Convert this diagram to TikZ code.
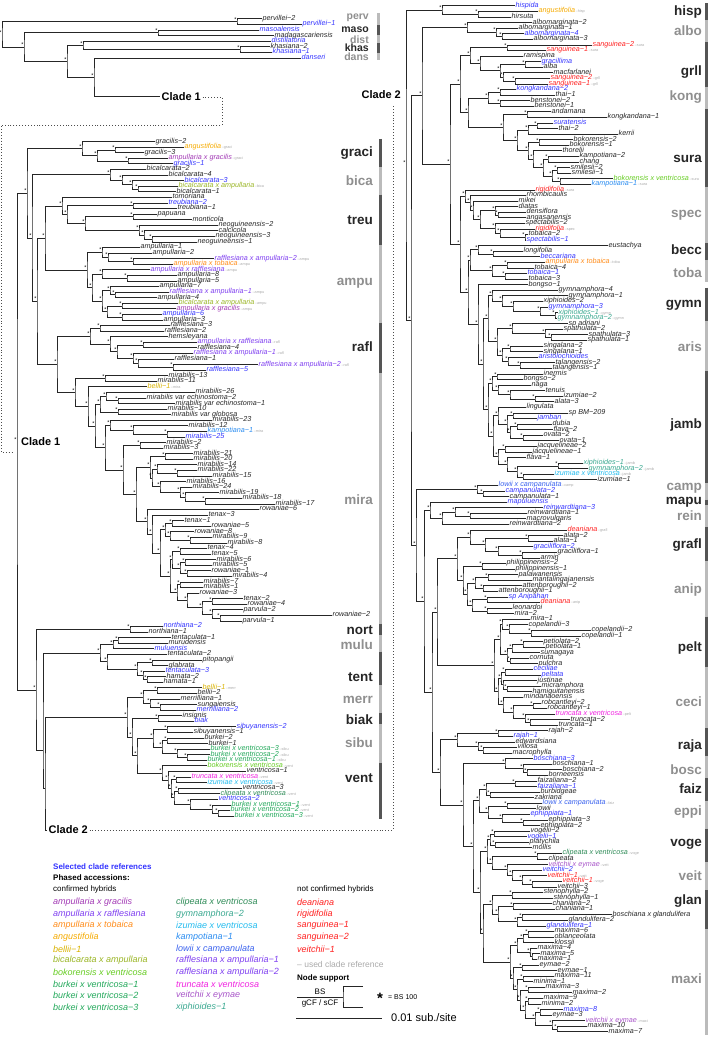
\documentclass[tikz,border=0pt]{standalone}
\usepackage{fontspec}
\setmainfont{Liberation Sans}
\usetikzlibrary{calc}

\definecolor{lf}{HTML}{262626}
\definecolor{rf}{HTML}{3333FF}
\definecolor{nc}{HTML}{FF2020}
\definecolor{cag}{HTML}{A23AB5}
\definecolor{car}{HTML}{7F3FF0}
\definecolor{cat}{HTML}{FF8C1A}
\definecolor{cang}{HTML}{F5AA00}
\definecolor{cbel}{HTML}{D9B200}
\definecolor{cba}{HTML}{9AB525}
\definecolor{cbv}{HTML}{66CC22}
\definecolor{cbk}{HTML}{22A85A}
\definecolor{ccv}{HTML}{2E8B57}
\definecolor{cgy}{HTML}{3AA890}
\definecolor{ciz}{HTML}{22BBEE}
\definecolor{ckp}{HTML}{2A8CF0}
\definecolor{clc}{HTML}{3A62EE}
\definecolor{ctv}{HTML}{F022E0}
\definecolor{cve}{HTML}{A855C8}
\definecolor{refgray}{HTML}{AAAAAA}
\definecolor{cdark}{HTML}{262626}
\definecolor{clight}{HTML}{8F8F8F}
\definecolor{bdark}{HTML}{555555}
\definecolor{blight}{HTML}{BBBBBB}

\newcommand{\sfx}[1]{{\fontsize{3.8}{4}\selectfont\upshape\color{refgray}\,–#1}}

\begin{document}
\begin{tikzpicture}[x=1pt, y=-1pt,
    leaf/.style={anchor=west, inner sep=0.5pt, text height=4pt, text depth=1.3pt, font=\fontsize{7.2}{7.2}\selectfont\itshape},
    br/.style={draw=black!85, line width=1pt},
    smark/.style={anchor=south east, inner sep=0.3pt, font=\fontsize{5.5}{5.5}\selectfont},
    cladelab/.style={anchor=east, inner sep=0pt, font=\fontsize{13.5}{14}\selectfont\bfseries},
    stub/.style={anchor=west, inner sep=1.5pt, font=\fontsize{11}{11}\selectfont\bfseries},
    dots/.style={dotted, line width=0.9pt, draw=black!70},
    bar/.style={line width=3pt},
    key/.style={anchor=west, inner sep=0pt, font=\fontsize{9}{9}\selectfont\itshape}]
\useasboundingbox (0,0) rectangle (709,1038);

% outgroups
\foreach \xp/\cl/\tx [count=\i] in {262/lf/pervillei−2, 302/rf/pervillei−1, 259/rf/masoalensis, 274/lf/madagascariensis, 271/rf/distillatoria, 270/lf/khasiana−2, 272/rf/khasiana−1, 301/rf/danseri}
  \node[leaf, text=\cl] (o\i) at (\xp,{19+(\i-1)*5.6}) {\tx};
\node[stub] (c1lab) at (160,97) {Clade 1};
\foreach \nd/\xp/\chA/\chB in {op/237/o1/o2, om/158/o3/o4, ok/240/o6/o7, oc/83/o5/ok, od/94/o8/c1lab, ob/67/oc/od, oa/24/om/ob, or/2/op/oa}{
  \path let \p1=(\chA), \p2=(\chB) in coordinate (\nd) at (\xp pt,{(\y1+\y2)/2});
  \draw[br] (\chA) -| (\nd) |- (\chB);
  \node[smark] at (\nd) {*};
}

% left column leaves
\foreach \xp/\cl/\tx [count=\i] in {155/lf/gracilis−2, 184/cang/angustifolia\sfx{graci}, 144/lf/gracilis−3, 168/cag/ampullaria x gracilis\sfx{graci}, 173/rf/gracilis−1,
  146/lf/bicalcarata−2, 168/lf/bicalcarata−4, 184/rf/bicalcarata−3, 178/cba/bicalcarata x ampullaria\sfx{bica}, 176/lf/bicalcarata−1,
  172/lf/tomoriana, 168/rf/treubiana−2, 177/lf/treubiana−1, 157/lf/papuana, 192/lf/monticola, 218/lf/neoguineensis−2, 218/lf/calcicola, 215/lf/neoguineensis−3, 197/lf/neoguineensis−1,
  140/lf/ampullaria−1, 152/lf/ampullaria−2, 214/car/rafflesiana x ampullaria−2\sfx{ampu}, 173/cat/ampullaria x tobaica\sfx{ampu}, 150/car/ampullaria x rafflesiana\sfx{ampu}, 177/lf/ampullaria−8, 177/lf/ampullaria−5, 159/lf/ampullaria−7, 169/car/rafflesiana x ampullaria−1\sfx{ampu}, 157/lf/ampullaria−4, 178/cba/bicalcarata x ampullaria\sfx{ampu}, 176/cag/ampullaria x gracilis\sfx{ampu}, 162/rf/ampullaria−6, 163/lf/ampullaria−3,
  170/lf/rafflesiana−3, 164/lf/rafflesiana−2, 168/lf/hemsleyana, 197/car/ampullaria x rafflesiana\sfx{rafl}, 197/lf/rafflesiana−4, 193/car/rafflesiana x ampullaria−1\sfx{rafl}, 174/lf/rafflesiana−1, 258/car/rafflesiana x ampullaria−2\sfx{rafl}, 206/rf/rafflesiana−5,
  168/lf/mirabilis−13, 157/lf/mirabilis−11, 147/cbel/bellii−1\sfx{mira}, 195/lf/mirabilis−26, 146/lf/mirabilis var echinostoma−2, 175/lf/mirabilis var echinostoma−1, 167/lf/mirabilis−10, 171/lf/mirabilis var globosa, 212/lf/mirabilis−23, 188/lf/mirabilis−12, 207/ckp/kampotiana−1\sfx{mira}, 185/rf/mirabilis−25, 166/lf/mirabilis−2, 163/lf/mirabilis−3,
  193/lf/mirabilis−21, 193/lf/mirabilis−20, 197/lf/mirabilis−14, 197/lf/mirabilis−22, 212/lf/mirabilis−15, 186/lf/mirabilis−16, 192/lf/mirabilis−24, 219/lf/mirabilis−19, 242/lf/mirabilis−18, 275/lf/mirabilis−17, 259/lf/rowaniae−6,
  208/lf/tenax−3, 184/lf/tenax−1, 211/lf/rowaniae−5, 194/lf/rowaniae−8, 212/lf/mirabilis−9, 227/lf/mirabilis−8, 207/lf/tenax−4, 211/lf/tenax−5, 216/lf/mirabilis−6, 212/lf/mirabilis−5, 211/lf/rowaniae−1, 232/lf/mirabilis−4,
  203/lf/mirabilis−7, 203/lf/mirabilis−1, 199/lf/rowaniae−3, 243/lf/tenax−2, 247/lf/rowaniae−4, 243/lf/parvula−2, 332/lf/rowaniae−2, 242/lf/parvula−1,
  163/rf/northiana−2, 148/lf/northiana−1, 171/lf/tentaculata−1, 168/lf/murudensis, 154/rf/muluensis, 167/lf/tentaculata−2, 202/lf/pitopangii, 168/lf/glabrata, 165/rf/tentaculata−3, 166/lf/hamata−2, 163/lf/hamata−1,
  202/cbel/bellii−1\sfx{merr}, 197/lf/bellii−2, 180/lf/merrilliana−1, 197/lf/sungaiensis, 196/rf/merrilliana−2, 182/lf/insignis, 194/rf/biak,
  236/rf/sibuyanensis−2, 193/lf/sibuyanensis−1, 204/lf/burkei−2, 208/lf/burkei−1, 210/cbk/burkei x ventricosa−3\sfx{sibu}, 210/cbk/burkei x ventricosa−2\sfx{sibu}, 207/cbk/burkei x ventricosa−1\sfx{sibu},
  207/cbv/bokorensis x ventricosa\sfx{vent}, 246/lf/ventricosa−1, 191/ctv/truncata x ventricosa\sfx{vent}, 207/ciz/izumiae x ventricosa\sfx{vent}, 242/lf/ventricosa−3, 220/ccv/clipeata x ventricosa\sfx{vent}, 218/rf/ventricosa−2, 231/cbk/burkei x ventricosa−1\sfx{vent}, 230/cbk/burkei x ventricosa−2\sfx{vent}, 234/cbk/burkei x ventricosa−3\sfx{vent}}
  \node[leaf, text=\cl] (l\i) at (\xp,{141.7+(\i-1)*5.574}) {\tx};

% clade 1
\foreach \nd/\xp/\chA/\chB in {g1/115/l2/l3, g2/128/l4/l5, g3/97/g1/g2, gra/82/l1/g3,
  b1/138/l9/l10, b2/132/l8/b1, b3/122/l7/b2, bic/110/l6/b3,
  t1/133/l12/l13, t2/133/l14/l15, t3/152/l18/l19, t4/144/l17/t3, t5/139/l16/t4, t6/85/t2/t5, t7/67/t1/t6, tre/62/l11/t7,
  a1/133/l22/l23, a2/108/l21/a1, a3/102/l20/a2, a4/127/l25/l26, a5/102/l24/a4, a6/115/l28/l29, a7/110/l27/a6, a8/122/l30/l31, a9/122/l32/l33, a10/107/a8/a9, a11/102/a7/a10, a12/92/a5/a11, amp/87/a3/a12, ta/45/tre/amp,
  f1/100/l34/l35, f2/143/l37/l38, f3/173/l41/l42, f4/138/l40/f3, f5/133/l39/f4, f6/117/f2/f5, f7/110/l36/f6, raf/90/f1/f7,
  m1/105/l43/l44, m3/118/l47/l48, m4/106/l46/m3, m5/118/l49/l50, m6/100/m4/m5, m9/167/l53/l54, m10/133/l52/m9, m11/110/l51/m10, m13/140/l55/l56,
  m16/165/l57/l58, m17/177/l60/l61, m18/157/l59/m17, m19/205/l65/l66, m20/185/l64/m19, m21/180/l63/m20, m22/160/l62/m21, m23/152/m18/m22, m24/150/m16/m23,
  m25/172/l69/l70, m26/190/l72/l73, m27/170/l71/m26, m28/165/m25/m27, m29/180/l74/l75, m30/185/l76/l77, m31/187/l78/l79, m32/180/m30/m31, m33/172/m29/m32,
  m34/180/l80/l81, m35/212/l83/l84, m36/220/l86/l87, m37/212/l85/m36, m38/202/m35/m37, m39/187/l82/m38, m40/177/m34/m39, m41/170/m33/m40, m42/160/m28/m41,
  m43/152/l68/m42, m44/147/l67/m43, m45/136/m24/m44, m46/123/m13/m45, m47/105/m11/m46, m48/95/m6/m47, m50/88/l45/m48, mir/75/m1/m50,
  rm/57/raf/mir, cz/37/ta/rm, cy/32/bic/cz, ca/27/gra/cy}{
  \path let \p1=(\chA), \p2=(\chB) in coordinate (\nd) at (\xp pt,{(\y1+\y2)/2});
  \draw[br] (\chA) -| (\nd) |- (\chB);
  \node[smark] at (\nd) {*};
}

% clade 2, left part
\foreach \nd/\xp/\chA/\chB in {nor/130/l88/l89, u1/118/l90/l91, u2/113/u1/l92, e1/152/l94/l95, e3/147/l97/l98, e2/143/l96/e3, e4/137/e1/e2, e5/107/l93/e4, u3/100/u2/e5,
  k1/157/l99/l100, k2/160/l102/l103, k3/150/l101/k2, k4/143/k1/k3, w1/158/l104/l105,
  s1/167/l106/l107, s2/167/l108/l109, s3/187/l111/l112, s4/177/l110/s3, s5/162/s2/s4, s6/153/s1/s5,
  v1/176/l115/l116, v2/178/l117/l118, v3/218/l121/l122, v4/212/l120/v3, v5/190/l119/v4, v6/174/v2/v5, v7/171/v1/v6, v8/168/l114/v7, v9/162/l113/v8,
  sv/137/s6/v9, xx/132/w1/sv, v0/127/k4/xx}{
  \path let \p1=(\chA), \p2=(\chB) in coordinate (\nd) at (\xp pt,{(\y1+\y2)/2});
  \draw[br] (\chA) -| (\nd) |- (\chB);
  \node[smark] at (\nd) {*};
}
\coordinate (nN) at (36,690);
\coordinate (nM) at (43,750);
\coordinate (nP) at (45,788);
\node[stub] (c2l) at (47,830) {Clade 2};
\draw[br] (nor) -| (nN) |- (nM);
\draw[br] (u3) -| (nM) |- (nP);
\draw[br] (v0) -| (nP) |- (c2l);
\node[smark] at (nN) {*};
\path let \p1=(ca), \p2=(nN) in coordinate (c1) at (17pt,{(\y1+\y2)/2});
\draw[br] (ca) -| (c1) |- (nN);
\node[smark] at (c1) {*};
\node[stub, inner sep=0pt] (c1name) at ([xshift=4pt]c1) {Clade 1};

% dotted links
\coordinate (c1a) at (222,125);
\coordinate (c1b) at (1,452);
\coordinate (c1e) at (12,452);
\draw[dots] (c1lab.east) -| (c1a) -| (c1b) -- (c1e);
\node[stub, anchor=east, inner sep=0pt] (c2r) at (401,95) {Clade 2};
\coordinate (c2a) at (393,104);
\draw[dots] (c2l.east) -| (c2a);

% right column leaves
\foreach \xp/\cl/\tx [count=\i] in {515/rf/hispida, 538/cang/angustifolia\sfx{hisp}, 511/lf/hirsuta,
  532/lf/albomarginata−2, 518/lf/albomarginata−1, 524/rf/albomarginata−4, 533/lf/albomarginata−3,
  592/nc/sanguinea−2\sfx{sura}, 546/nc/sanguinea−1\sfx{sura}, 523/lf/ramispina, 541/rf/gracillima, 543/lf/alba, 553/lf/macfarlanei, 550/nc/sanguinea−2\sfx{grll}, 548/nc/sanguinea−1\sfx{grll},
  516/rf/kongkandana−2, 555/lf/thai−1, 530/lf/benstonei−2, 534/lf/benstonei−1,
  551/lf/andamana, 607/lf/kongkandana−1, 553/rf/suratensis, 558/lf/thai−2, 618/lf/kerrii, 573/lf/bokorensis−2, 569/lf/bokorensis−1, 562/lf/thorelii, 579/lf/kampotiana−2, 579/lf/chang, 570/lf/smilesii−2, 571/lf/smilesii−1, 613/cbv/bokorensis x ventricosa\sfx{sura}, 591/ckp/kampotiana−1\sfx{sura},
  535/nc/rigidifolia\sfx{sura}, 526/lf/rhombicaulis, 518/lf/mikei, 518/lf/diatas, 526/lf/densiflora, 526/lf/angasanensis, 525/lf/spectabilis−2, 535/nc/rigidifolia\sfx{spec}, 528/lf/tobaica−2, 526/rf/spectabilis−1,
  608/lf/eustachya, 523/lf/longifolia, 540/rf/beccariana,
  545/cat/ampullaria x tobaica\sfx{toba}, 534/lf/tobaica−4, 527/rf/tobaica−1, 528/lf/tobaica−3, 528/lf/bongso−1,
  558/lf/gymnamphora−4, 568/lf/gymnamphora−1, 543/lf/xiphioides−2, 548/rf/gymnamphora−3, 558/cgy/xiphioides−1\sfx{gymn}, 557/cgy/gymnamphora−2\sfx{gymn},
  568/lf/sp adriani, 563/lf/spathulata−2, 588/lf/spathulata−3, 587/lf/spathulata−1, 543/lf/singalana−2, 543/lf/singalana−1, 538/rf/aristolochioides, 555/lf/talangensis−2, 552/lf/talangensis−1,
  543/lf/inermis, 523/lf/bongso−2, 531/lf/naga, 545/lf/tenuis, 563/lf/izumiae−2, 554/lf/alata−3, 526/lf/lingulata, 568/lf/sp BM−209, 537/rf/jamban, 552/lf/dubia, 553/lf/flava−2, 543/lf/ovata−2, 559/lf/ovata−1, 537/lf/jacquelineae−2, 532/lf/jacquelineae−1, 526/lf/flava−1, 583/cgy/xiphioides−1\sfx{jamb}, 588/cgy/gymnamphora−2\sfx{jamb}, 554/ciz/izumiae x ventricosa\sfx{jamb}, 597/lf/izumiae−1,
  498/clc/lowii x campanulata\sfx{camp}, 505/rf/campanulata−2, 509/lf/campanulata−1, 507/rf/mapuluensis, 543/rf/reinwardtiana−3, 527/lf/reinwardtiana−1, 526/lf/macrovulgaris, 509/lf/reinwardtiana−2,
  567/nc/deaniana\sfx{grafl}, 563/lf/alata−2, 553/lf/alata−1, 533/rf/graciliflora−2, 557/lf/graciliflora−1, 540/lf/armin,
  506/lf/philippinensis−2, 515/lf/philippinensis−1, 518/lf/palawanensis, 532/lf/mantalingajanensis, 522/lf/attenboroughii−2, 498/lf/attenboroughii−1, 508/rf/sp Anipahan, 540/nc/deaniana\sfx{anip}, 512/lf/leonardoi, 514/lf/mira−2,
  530/lf/mira−1, 528/lf/copelandii−3, 591/lf/copelandii−2, 581/lf/copelandii−1, 543/lf/petiolata−2, 545/lf/petiolata−1, 540/lf/sumagaya, 529/lf/cornuta, 538/lf/pulchra,
  533/rf/ceciliae, 541/rf/peltata, 537/lf/justinae, 541/lf/micramphora, 532/lf/hamiguitanensis, 523/lf/mindanaoensis, 541/lf/robcantleyi−2, 547/lf/robcantleyi−1, 555/ctv/truncata x ventricosa\sfx{pelt}, 570/lf/truncata−2, 558/lf/truncata−1,
  548/lf/rajah−2, 513/rf/rajah−1, 515/lf/edwardsiana, 517/lf/villosa, 512/lf/macrophylla,
  533/rf/boschiana−3, 552/lf/boschiana−1, 562/lf/boschiana−2, 548/lf/borneensis,
  537/lf/faizaliana−2, 537/rf/faizaliana−1, 540/lf/burbidgeae, 534/lf/zakriana,
  542/clc/lowii x campanulata\sfx{faiz}, 536/lf/lowii, 530/rf/ephippiata−1, 548/lf/ephippiata−3, 540/lf/ephippiata−2,
  530/lf/vogelii−2, 527/rf/vogelii−1, 529/lf/platychila, 532/lf/mollis, 562/ccv/clipeata x ventricosa\sfx{voge}, 548/lf/clipeata,
  548/cve/veitchii x eymae\sfx{veit}, 542/rf/veitchii−2, 547/nc/veitchii−1\sfx{veit}, 562/nc/veitchii−1\sfx{voge}, 557/lf/veitchii−3,
  543/lf/stenophylla−2, 553/lf/stenophylla−1, 552/lf/chaniana−2, 555/lf/chaniana−1, 612/lf/boschiana x glandulifera, 568/lf/glandulifera−2, 546/rf/glandulifera−1,
  554/lf/maxima−6, 554/lf/oblanceolata, 554/lf/klossii, 537/lf/maxima−4, 540/lf/maxima−5, 537/lf/maxima−1, 539/lf/eymae−2, 557/lf/eymae−1, 554/lf/maxima−11, 533/lf/minima−1,
  545/lf/maxima−3, 572/lf/maxima−2, 543/lf/maxima−9, 541/lf/minima−2, 563/rf/maxima−8, 552/lf/eymae−3, 585/cve/veitchii x eymae\sfx{maxi}, 587/lf/maxima−10, 608/lf/maxima−7}
  \node[leaf, text=\cl] (r\i) at (\xp,{6+(\i-1)*5.576}) {\tx};

% clade 2, right part
\foreach \nd/\xp/\chA/\chB in {hi1/478/r2/r3, his/442/r1/hi1,
  al1/502/r6/r7, al2/496/r5/al1, alb/467/r4/al2,
  gr1/507/r8/r9, gr2/525/r11/r12, gr3/515/r14/r15, gr4/503/r13/gr3, gr5/500/gr2/gr4, gr6/480/r10/gr5, gr7/470/gr1/gr6,
  kA/500/r16/r17, kB/500/r18/r19, kon/488/kA/kB,
  su1/527/r20/r21, su2/537/r22/r23, su3/528/su2/r24, su4/539/r25/r26, su5/548/r28/r29, su6/557/r30/r31, su7/560/r32/r33, su8/552/su6/su7, su9/543/su5/su8, su10/533/r27/su9, su11/528/su4/su10, su12/517/su3/su11, sur/503/su1/su12,
  ks/468/kon/sur, S5/460/gr7/ks,
  sp1/498/r38/r39, sp2/495/r37/sp1, sp3/525/r42/r43, sp4/500/r41/sp3, sp5/495/r40/sp4, sp6/480/sp2/sp5, sp7/473/r36/sp6, sp8/470/r35/sp7, spe/465/r34/sp8,
  be1/493/r45/r46, bec/478/r44/be1, to1/507/r47/r48, to2/505/r49/r50, tob/492/to1/to2, bt/470/bec/tob,
  gy1/555/r56/r57, gy2/540/r55/gy1, gy3/513/r54/gy2, gy4/502/r53/gy3, gym/492/r52/gy4,
  ar1/551/r60/r61, ar2/545/r59/ar1, ar3/512/r58/ar2, ar4/510/r62/r63, ar5/520/r65/r66, ar6/508/r64/ar5, ar7/502/ar4/ar6, ari/497/ar3/ar7, ga/488/gym/ari,
  ja1/497/r67/r68, ja2/535/r71/r72, ja3/510/r70/ja2, ja4/498/r69/ja3, ja5/492/ja1/ja4, ja6/513/r74/r75, ja7/517/r76/r77, ja8/523/r78/r79, ja9/510/ja7/ja8, ja10/507/ja6/ja9, ja11/498/r73/ja10,
  ja12/505/r80/r81, ja13/558/r83/r84, ja14/523/r85/r86, ja15/517/ja13/ja14, ja16/507/r82/ja15, ja17/498/ja12/ja16, ja18/493/ja11/ja17, jam/488/ja5/ja18,
  hh/483/ga/jam, gg/478/r51/hh, tt2/468/bt/gg, S6/460/spe/tt2, S4/450/S5/S6, S2/422/alb/S4,
  ca1/483/r88/r89, cam/477/r87/ca1, re1/470/r92/r93, re2/455/r91/re1, rei/442/re2/r94, mr/430/r90/rei,
  gf1/528/r96/r97, gf2/522/r99/r100, gf3/498/r98/gf2, gf4/485/gf1/gf3, grf/470/r95/gf4,
  an1/482/r101/r102, an2/488/r103/r104, an3/483/r105/r106, an4/475/an2/an3, an5/487/r107/r108, an6/487/r109/r110, an7/472/an5/an6, an8/467/an4/an7, ani/463/an1/an8, GA/457/grf/ani,
  pe1/531/r113/r114, pe2/509/r112/pe1, pe3/502/r111/pe2, pe4/523/r115/r116, pe5/512/pe4/r117, pe6/510/r118/r119, pe7/507/pe5/pe6, pel/500/pe3/pe7,
  ce1/505/r120/r121, ce2/507/r123/r124, ce3/503/r122/ce2, ce4/501/ce1/ce3, ce5/533/r126/r127, ce6/530/r129/r130, ce7/525/r128/ce6, ce8/513/ce5/ce7, ce9/503/r125/ce8, cec/498/ce4/ce9,
  pc/494/pel/cec, Y1/437/GA/pc,
  ra1/498/r131/r132, ra3/483/r134/r135, ra4/478/r133/ra3, raj/457/ra1/ra4,
  bo2/527/r138/r139, bo1/523/r137/bo2, bos/505/r136/bo1,
  fa1/515/r140/r141, fa2/490/r142/r143, fai/486/fa1/fa2, ep1/507/r144/r145, ep4/523/r147/r148, ep2/502/r146/ep4, epp/488/ep1/ep2, fe/479/fai/epp,
  vo1/494/r149/r150, vo2/495/r151/r152, vo3/490/vo1/vo2, vo4/537/r153/r154, ve3/532/r158/r159, ve2/522/r157/ve3, ve1/512/r156/ve2, ve4/507/r155/ve1, vv1/492/vo4/ve4, vv2/487/vo3/vv1,
  gl1/512/r160/r161, gl2/513/r162/r163, gl3/522/r164/r165, gl4/517/gl3/r166, gl5/498/gl2/gl4, gla/492/gl1/gl5,
  mx1/528/r167/r168, mx2/523/mx1/r169, mx3/532/r171/r172, mx4/530/r170/mx3, mx5/517/mx2/mx4, mx6/522/r173/r174, mx7/523/r175/r176, mx8/528/r177/r178, mx9/528/r179/r180,
  mx10/540/r181/r182, mx11/557/r184/r185, mx12/552/r183/mx11, mx13/535/mx10/mx12, mx14/525/mx9/mx13, mx15/520/mx8/mx14, mx16/517/mx7/mx15, mx17/513/mx6/mx16, mxi/510/mx5/mx17, gm/483/gla/mxi,
  Z4/480/vv2/gm, Z3/473/fe/Z4, Y3/463/bos/Z3, Y2/440/raj/Y3, X3/432/Y1/Y2, X2/424/mr/X3, S3/416/cam/X2, S1/411/S2/S3, rc/406/his/S1}{
  \path let \p1=(\chA), \p2=(\chB) in coordinate (\nd) at (\xp pt,{(\y1+\y2)/2});
  \draw[br] (\chA) -| (\nd) |- (\chB);
  \node[smark] at (\nd) {*};
}

% clade names and bars
\foreach \lb/\ly/\ya/\yb/\lc/\bc in {perv/18/13/25.5/clight/blight, maso/30/25.5/35.5/cdark/bdark, dist/40/35.5/43.5/clight/blight, khas/48/43.5/53.5/cdark/bdark, dans/57/53.5/60/clight/blight}{
  \node[cladelab, text=\lc, font=\fontsize{10.5}{11}\selectfont\bfseries] (lab\lb) at (369,\ly) {\lb};
  \draw[bar, draw=\bc] (378,\ya) -- (378,\yb);
}
\foreach \lb/\ly/\ya/\yb/\lc/\bc in {graci/153/138.9/166.8/cdark/bdark, bica/181/166.8/194.7/clight/blight, treu/220/194.7/244.8/cdark/bdark, ampu/283/244.8/322.8/clight/blight,
  rafl/347/322.8/373/cdark/bdark, mira/500/373/623.8/clight/blight, nort/630/623.8/635/cdark/bdark, mulu/645/635/651.7/clight/blight, tent/677/651.7/685.2/cdark/bdark,
  merr/700/685.2/713.1/clight/blight, biak/720/713.1/724.2/cdark/bdark, sibu/743/724.2/763.3/clight/blight, vent/778/763.3/819/cdark/bdark}{
  \node[cladelab, text=\lc] (lab\lb) at (373,\ly) {\lb};
  \draw[bar, draw=\bc] (380,\ya) -- (380,\yb);
}
\foreach \lb/\ly/\ya/\yb/\lc/\bc in {hisp/12/3.2/19.9/cdark/bdark, albo/31/19.9/42.3/clight/blight, grll/72/42.3/86.9/cdark/bdark, kong/97/86.9/109.2/clight/blight,
  sura/159/109.2/187.2/cdark/bdark, spec/215/187.2/243/clight/blight, becc/250/243/259.7/cdark/bdark, toba/273/259.7/282/clight/blight, gymn/305/287.6/321.1/cdark/bdark,
  aris/347/321.1/371.2/clight/blight, jamb/425/371.2/482.8/cdark/bdark, camp/488/482.8/499.5/clight/blight, mapu/502/499.5/505.1/cdark/bdark, rein/516/505.1/527.4/clight/blight,
  grafl/545/527.4/560.9/cdark/bdark, anip/590/560.9/616.7/clight/blight, pelt/648/616.7/666.9/cdark/bdark, ceci/702/666.9/728.2/clight/blight, raja/746/728.2/756.1/cdark/bdark,
  bosc/770/756.1/778.4/clight/blight, faiz/789/778.4/800.7/cdark/bdark, eppi/812/800.7/828.6/clight/blight, voge/844/828.6/862.1/cdark/bdark, veit/876/862.1/890/clight/blight,
  glan/901/890/929/cdark/bdark, maxi/979/929/1035/clight/blight}{
  \node[cladelab, text=\lc] (lab\lb) at (702,\ly) {\lb};
  \draw[bar, draw=\bc] (706.5,\ya) -- (706.5,\yb);
}

% legend
\node[anchor=west, inner sep=0pt, font=\fontsize{8}{8}\selectfont\bfseries, text=rf] (lgsel) at (53,867) {Selected clade references};
\node[anchor=west, inner sep=0pt, font=\fontsize{8}{8}\selectfont\bfseries] (lgph) at (53,877.5) {Phased accessions:};
\node[anchor=west, inner sep=0pt, font=\fontsize{8}{8}\selectfont] (lgconf) at (53,889) {confirmed hybrids};
\node[anchor=west, inner sep=0pt, font=\fontsize{8}{8}\selectfont] (lgnot) at (297,889) {not confirmed hybrids};
\foreach \cl/\tx [count=\i] in {cag/ampullaria x gracilis, car/ampullaria x rafflesiana, cat/ampullaria x tobaica, cang/angustifolia, cbel/bellii−1, cba/bicalcarata x ampullaria, cbv/bokorensis x ventricosa, cbk/burkei x ventricosa−1, cbk/burkei x ventricosa−2, cbk/burkei x ventricosa−3}
  \node[key, text=\cl] (ka\i) at (53,{902+(\i-1)*11.7}) {\tx};
\foreach \cl/\tx [count=\i] in {ccv/clipeata x ventricosa, cgy/gymnamphora−2, ciz/izumiae x ventricosa, ckp/kampotiana−1, clc/lowii x campanulata, car/rafflesiana x ampullaria−1, car/rafflesiana x ampullaria−2, ctv/truncata x ventricosa, cve/veitchii x eymae, cgy/xiphioides−1}
  \node[key, text=\cl] (kb\i) at (176,{902+(\i-1)*11.7}) {\tx};
\foreach \tx [count=\i] in {deaniana, rigidifolia, sanguinea−1, sanguinea−2, veitchii−1}
  \node[key, text=nc] (kc\i) at (297,{902+(\i-1)*11.7}) {\tx};
\node[anchor=west, inner sep=0pt, font=\fontsize{8.5}{8.5}\selectfont, text=refgray] (lgref) at (297,964.5) {– used clade reference};
\node[anchor=west, inner sep=0pt, font=\fontsize{8}{8}\selectfont\bfseries] (lgns) at (297,978) {Node support};
\node[inner sep=0pt, font=\fontsize{8}{8}\selectfont] (nsbs) at (320,991.5) {BS};
\node[inner sep=0pt, font=\fontsize{8}{8}\selectfont] (nsgcf) at (320,1003) {gCF / sCF};
\coordinate (nsa) at (297,997);
\coordinate (nsb) at (343,997);
\coordinate (nsc) at (363,986);
\coordinate (nsd) at (363,1007);
\draw[br] (nsa) -- (nsb);
\draw[br] (nsc) -| (nsb) |- (nsd);
\node[inner sep=0pt, font=\fontsize{15}{15}\selectfont\bfseries] (nsstar) at (380,998) {*};
\node[anchor=west, inner sep=0pt, font=\fontsize{7}{7}\selectfont] (nseq) at (388,997) {= BS 100};
\coordinate (sca) at (296,1018);
\coordinate (scb) at (382,1018);
\draw[br, line width=1pt] (sca) -- (scb);
\node[anchor=west, inner sep=0pt, font=\fontsize{11}{11}\selectfont] (sctxt) at (391,1018) {0.01 sub./site};
\end{tikzpicture}
\end{document}
